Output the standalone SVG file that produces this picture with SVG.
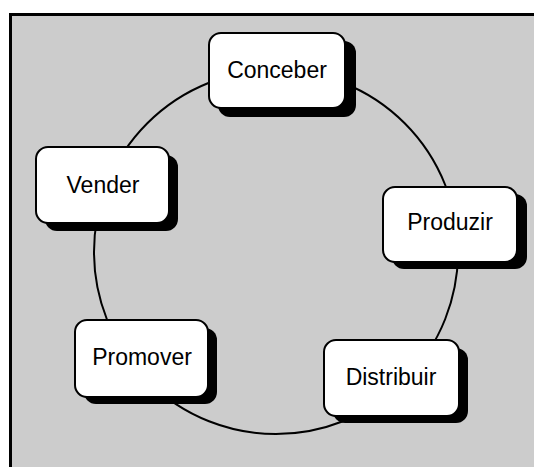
<svg xmlns="http://www.w3.org/2000/svg" width="534" height="467" viewBox="0 0 534 467">
  <style>
    .frame { fill: #cccccc; stroke: #000000; stroke-width: 3; }
    .ring { fill: none; stroke: #000000; stroke-width: 2; }
    .shadow { fill: #000000; }
    .box { fill: #ffffff; stroke: #000000; stroke-width: 2; }
    .label { font-family: "Liberation Sans", Arial, sans-serif; font-size: 23px; fill: #000000; text-anchor: middle; }
  </style>

  <!-- background panel -->
  <rect class="frame" x="10.5" y="14.5" width="540" height="470"/>

  <!-- cycle connector -->
  <g id="connectors">
    <circle class="ring" cx="276" cy="252" r="182"/>
  </g>

  <g id="conceber">
    <rect class="shadow" x="218" y="41" width="138" height="76" rx="12"/>
    <rect class="box" x="209" y="33" width="136" height="75" rx="12"/>
    <text class="label" x="277" y="78">Conceber</text>
  </g>

  <g id="produzir">
    <rect class="shadow" x="392" y="194" width="135" height="75" rx="12"/>
    <rect class="box" x="383" y="187" width="134" height="75" rx="12"/>
    <text class="label" x="450" y="230">Produzir</text>
  </g>

  <g id="distribuir">
    <rect class="shadow" x="333" y="348" width="135" height="75" rx="12"/>
    <rect class="box" x="324" y="340" width="135" height="76" rx="12"/>
    <text class="label" x="391" y="385">Distribuir</text>
  </g>

  <g id="promover">
    <rect class="shadow" x="84" y="328" width="133" height="76" rx="12"/>
    <rect class="box" x="75" y="320" width="133" height="77" rx="12"/>
    <text class="label" x="142" y="365">Promover</text>
  </g>

  <g id="vender">
    <rect class="shadow" x="45" y="155" width="133" height="76" rx="12"/>
    <rect class="box" x="36" y="147" width="133" height="76" rx="12"/>
    <text class="label" x="103" y="193">Vender</text>
  </g>
</svg>
